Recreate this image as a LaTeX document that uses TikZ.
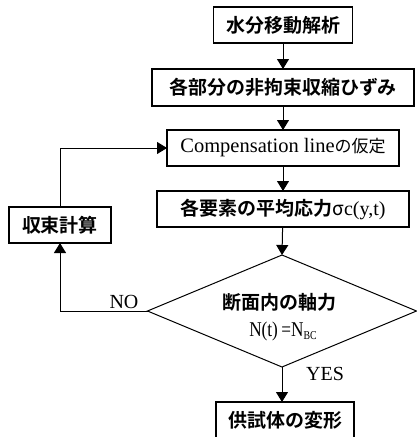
\documentclass[tikz,border=0pt]{standalone}
\usepackage{fontspec}
\setmainfont{Liberation Serif}
\newfontfamily\jp[BoldFont={Noto Sans CJK JP Bold}]{Noto Sans CJK JP}
\newfontfamily\condserif[FakeStretch=0.82]{Liberation Serif}
\usetikzlibrary{shapes.geometric,arrows.meta}
\begin{document}
\begin{tikzpicture}[x=1pt,y=-1pt,
  box/.style={draw,line width=1.2pt,inner sep=0pt,outer sep=0pt,minimum height=36pt,font=\jp\bfseries\fontsize{19}{19}\selectfont},
  arr/.style={line width=1pt,-{Triangle[width=12pt,length=10pt]}},
  lbl/.style={inner sep=0pt,outer sep=0pt,font=\fontsize{20}{20}\selectfont}]
\useasboundingbox (0,0) rectangle (416,437);
\node[box,minimum width=139pt] (b1) at (283,25) {水分移動解析};
\node[box,minimum width=262pt,minimum height=37pt] (b2) at (283,87.5) {各部分の非拘束収縮ひずみ};
\node[box,minimum width=232pt] (b3) at (283,148) {\rmfamily\mdseries\fontsize{20.5}{20.5}\selectfont Compensation line{\jp\mdseries\fontsize{17}{17}\selectfont の仮定}};
\node[box,minimum width=252pt] (b4) at (283,209) {各要素の平均応力{\jp\mdseries σ}{\rmfamily\mdseries\fontsize{20}{20}\selectfont c(y,t)}};
\node[draw,diamond,line width=1pt,inner sep=0pt,outer sep=0pt,minimum width=269pt,minimum height=112pt] (dia) at (282,311) {};
\node[inner sep=0pt,font=\jp\bfseries\fontsize{19}{19}\selectfont] (d1) at (279,302) {断面内の軸力};
\node[inner sep=0pt,font=\condserif\fontsize{21}{21}\selectfont] (d2) at (283,331) {N(t)\,=N\raisebox{-3pt}{\fontsize{12}{12}\selectfont BC}};
\node[box,minimum width=102pt] (b5) at (60,225) {収束計算};
\node[box,minimum width=138pt,minimum height=37pt] (b6) at (285,420.5) {供試体の変形};
\node[lbl] (no) at (124,302) {NO};
\node[lbl] (yes) at (325,374) {YES};
\draw[arr] (b1) -- (b2);
\draw[arr] (b2) -- (b3);
\draw[arr] (b3) -- (b4);
\draw[arr] (b4) -- (dia.north);
\draw[arr] (dia.south) -- (dia.south |- b6.north);
\draw[arr] (dia.west) -- (dia.west -| b5.south) -- (b5.south);
\draw[arr] (b5.north) |- (b3.west);
\end{tikzpicture}
\end{document}
